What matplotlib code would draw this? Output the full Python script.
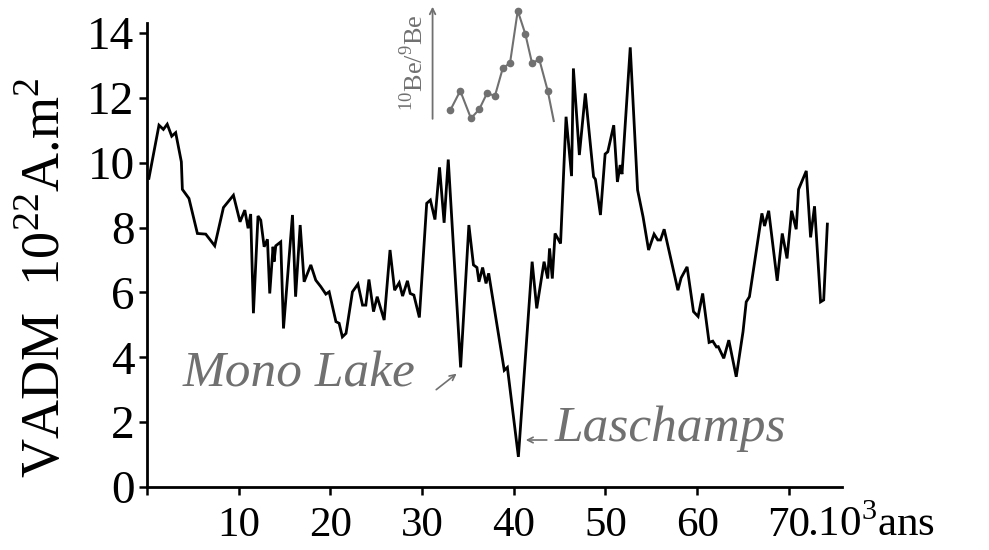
import matplotlib
matplotlib.use("Agg")
import matplotlib.pyplot as plt

plt.rcParams['font.family'] = ['Liberation Serif', 'DejaVu Serif']
plt.rcParams['mathtext.fontset'] = 'custom'
plt.rcParams['mathtext.rm'] = 'Liberation Serif'

# VADM record (kyr, 10^22 A.m^2)
age = [0.2, 1.3, 1.78, 2.2, 2.69, 3.12, 3.74, 3.85, 4.57, 5.49, 6.4, 7.38, 8.33, 9.42,
       10.14, 10.66, 11.02, 11.3, 11.6, 12.1, 12.4, 12.77, 13.13, 13.38, 13.74, 13.85,
       14.04, 14.58, 14.88, 15.86, 16.2, 16.7, 17.13, 17.86, 18.4, 18.95, 19.5, 19.86,
       20.6, 20.95, 21.3, 21.7, 22.4, 23.0, 23.5, 23.86, 24.2, 24.7, 25.1, 25.86, 26.5,
       27.0, 27.5, 27.87, 28.4, 28.7, 29.1, 29.7, 30.5, 30.9, 31.4, 31.9, 32.4, 32.85,
       34.2, 35.1, 35.6, 35.98, 36.2, 36.6, 36.97, 37.26, 38.96, 39.3, 40.5, 42.0, 42.5,
       43.3, 43.7, 43.9, 44.2, 44.5, 45.1, 45.7, 46.3, 46.5, 47.15, 47.8, 48.7, 48.9,
       49.45, 49.96, 50.25, 50.9, 51.3, 51.6, 51.8, 52.7, 53.5, 54.1, 54.7, 55.3, 55.7,
       56.0, 56.4, 57.9, 58.25, 58.9, 59.6, 60.1, 60.6, 61.3, 61.7, 62.1, 62.3, 62.9,
       63.45, 64.26, 65.0, 65.35, 65.7, 67.06, 67.35, 67.8, 68.73, 69.28, 69.8, 70.3,
       70.8, 71.06, 71.9, 72.37, 72.8, 73.46, 73.8, 74.2]
vadm = [9.52, 11.16, 11.03, 11.19, 10.82, 10.93, 10.03, 9.18, 8.9, 7.82, 7.8, 7.44, 8.62, 9.0,
        8.18, 8.54, 7.98, 8.42, 5.36, 8.36, 8.23, 7.41, 7.64, 5.97, 7.41, 6.95,
        7.44, 7.56, 4.89, 8.39, 5.87, 8.08, 6.33, 6.85, 6.38, 6.18, 5.95, 6.02,
        5.1, 5.05, 4.63, 4.74, 6.02, 6.26, 5.61, 5.61, 6.4, 5.41, 5.87, 5.15, 7.31,
        6.07, 6.3, 5.89, 6.36, 5.97, 5.92, 5.23, 8.75, 8.85, 8.25, 9.86, 8.15, 10.1,
        3.69, 8.08, 6.85, 6.77, 6.33, 6.77, 6.28, 6.59, 3.6, 3.69, 0.93, 6.95, 5.51,
        6.95, 6.43, 7.36, 6.43, 7.82, 7.51, 11.42, 9.59, 12.91, 10.24, 12.14, 9.57, 9.49,
        8.39, 10.27, 10.34, 11.16, 9.41, 9.93, 9.65, 13.56, 9.16, 8.33, 7.31, 7.8, 7.62,
        7.62, 7.95, 6.07, 6.45, 6.79, 5.41, 5.26, 5.97, 4.46, 4.5, 4.32, 4.33, 3.97,
        4.53, 3.4, 4.79, 5.71, 5.87, 8.44, 8.05, 8.52, 6.36, 7.82, 7.05, 8.52,
        7.95, 9.18, 9.75, 7.7, 8.66, 5.71, 5.77, 8.11]

# 10Be/9Be inset (same time axis, arbitrary vertical units)
be_age = [33.07, 34.16, 35.33, 36.23, 37.07, 37.95, 38.79, 39.59, 40.43, 41.26, 41.99, 42.78, 43.70]
be_val = [11.62, 12.22, 11.37, 11.65, 12.14, 12.07, 12.91, 13.08, 14.69, 13.97, 13.07, 13.19, 12.22]
be_tail = (44.36, 11.29)

xticks = [0, 10, 20, 30, 40, 50, 60, 70]
xlabels = ['', '10', '20', '30', '40', '50', '60', '70']
yticks = [0, 2, 4, 6, 8, 10, 12, 14]

grey = '#707070'

fig = plt.figure(figsize=(9.89, 5.5), dpi=100)
ax = fig.add_axes([0.1487, 0.1145, 0.7027, 0.843])

ax.plot(age, vadm, color='black', lw=2.0, solid_joinstyle='miter', zorder=3)

# inset 10Be/9Be curve
ax.plot(be_age + [be_tail[0]], be_val + [be_tail[1]], color=grey, lw=1.5, clip_on=False)
ax.plot(be_age, be_val, 'o', color=grey, ms=4.5, clip_on=False)
ax.annotate('', xy=(31.14, 14.9), xytext=(31.14, 11.27),
            arrowprops=dict(arrowstyle='->', color=grey, lw=1.3), annotation_clip=False)
ax.text(29.1, 13.1, '$^{10}$Be/$^{9}$Be', rotation=90, color=grey, fontsize=19,
        ha='center', va='center', clip_on=False)

# event labels
ax.text(3.9, 3.1, 'Mono Lake', color=grey, fontsize=37, style='italic',
        ha='left', va='baseline')
ax.annotate('', xy=(34.0, 3.55), xytext=(31.3, 2.95),
            arrowprops=dict(arrowstyle='->', color=grey, lw=1.2))
ax.text(44.4, 1.43, 'Laschamps', color=grey, fontsize=37, style='italic',
        ha='left', va='baseline')
ax.annotate('', xy=(41.0, 1.45), xytext=(43.9, 1.45),
            arrowprops=dict(arrowstyle='->', color=grey, lw=1.2))

ax.set_xlim(0, 75.8)
ax.set_ylim(0, 14.3)
ax.set_xticks(xticks)
ax.set_xticklabels(xlabels)
ax.set_yticks(yticks)
ax.tick_params(axis='both', direction='out', length=6, width=1.8, pad=3)
ax.tick_params(axis='y', labelsize=34)
ax.tick_params(axis='x', labelsize=31, pad=8)

for side in ['top', 'right']:
    ax.spines[side].set_visible(False)
for side in ['left', 'bottom']:
    ax.spines[side].set_linewidth(2.0)

ax.annotate('.10$^3$ans', xy=(72.0, 0), xycoords=('data', 'axes fraction'),
            xytext=(0, -13), textcoords='offset points', ha='left', va='top',
            fontsize=31, annotation_clip=False)

fig.text(0.047, 0.495, 'VADM  10$^{22}$A.m$^2$', rotation=90, fontsize=39,
         ha='center', va='center')

fig.savefig('out.png', dpi=100, facecolor='white')
